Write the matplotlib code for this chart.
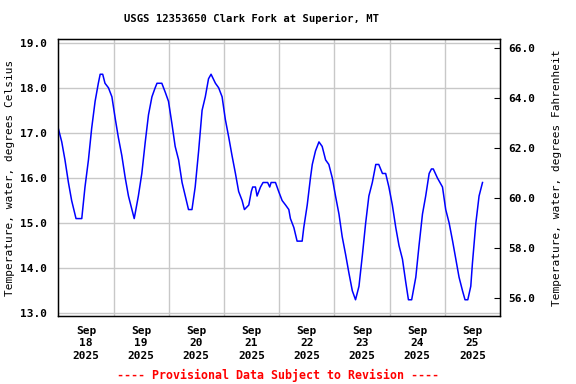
import pandas as pd
import matplotlib
matplotlib.use("Agg")
import matplotlib.pyplot as plt
import numpy as np

plt.rcParams["font.family"] = "DejaVu Sans Mono"
plt.rcParams["font.weight"] = "bold"

# Hours after 2025-09-18 00:00 and water temperature (deg C)
hours = [0, 1.5, 2.9, 4.4, 5.8, 7.7, 10.2, 11.6, 13.1, 14.5, 16.0, 17.4, 18.2, 19.3,
         20.3, 21.8, 23.3, 24.8, 26.1, 27.6, 29.1, 30.5, 33.0, 34.8, 36.3, 37.8,
         39.2, 40.7, 42.1, 42.9, 45.0, 46.5, 47.9, 49.4, 50.8, 52.3, 53.8, 55.2,
         56.6, 58.1, 59.5, 61.0, 62.5, 63.9, 65.3, 66.4, 68.3, 69.7, 71.2, 72.6,
         74.1, 75.5, 77.0, 78.4, 79.9, 80.9, 82.8, 83.9, 84.5, 85.7, 86.4, 87.9,
         89.0, 91.0, 91.9, 92.5, 94.4, 95.8, 97.3, 98.8, 100.2, 100.9, 102.4,
         103.8, 106.0, 106.7, 108.2, 108.9, 109.6, 110.4, 111.8, 113.3, 114.7,
         116.2, 117.6, 119.1, 120.5, 122.0, 123.4, 124.9, 126.3, 127.8, 129.2,
         130.7, 132.2, 133.6, 135.0, 136.5, 138.0, 139.3, 140.9, 142.3, 143.7,
         145.2, 146.7, 148.1, 149.6, 151.0, 152.2, 153.6, 155.4, 156.8, 158.3,
         159.7, 161.2, 162.2, 163.0, 164.8, 167.0, 168.4, 169.9, 171.4, 172.8,
         174.2, 175.7, 176.8, 178.0, 179.3, 180.0, 181.5, 182.9, 184.4]
temp_c = [17.1, 16.8, 16.4, 15.9, 15.5, 15.1, 15.1, 15.8, 16.4, 17.1, 17.7, 18.1, 18.3, 18.3,
          18.1, 18.0, 17.8, 17.3, 16.9, 16.5, 16.0, 15.6, 15.1, 15.6, 16.1, 16.8,
          17.4, 17.8, 18.0, 18.1, 18.1, 17.9, 17.7, 17.2, 16.7, 16.4, 15.9, 15.6,
          15.3, 15.3, 15.8, 16.6, 17.5, 17.8, 18.2, 18.3, 18.1, 18.0, 17.8, 17.3,
          16.9, 16.5, 16.1, 15.7, 15.5, 15.3, 15.4, 15.7, 15.8, 15.8, 15.6, 15.8,
          15.9, 15.9, 15.8, 15.9, 15.9, 15.7, 15.5, 15.4, 15.3, 15.1, 14.9,
          14.6, 14.6, 14.9, 15.4, 15.7, 16.0, 16.3, 16.6, 16.8, 16.7,
          16.4, 16.3, 16.0, 15.6, 15.2, 14.7, 14.3, 13.9, 13.5, 13.3,
          13.6, 14.3, 15.0, 15.6, 15.9, 16.3, 16.3, 16.1, 16.1, 15.8,
          15.4, 14.9, 14.5, 14.2, 13.7, 13.3, 13.3, 13.8, 14.5, 15.2,
          15.6, 16.1, 16.2, 16.2, 16.0, 15.8, 15.3, 15.0, 14.6, 14.2,
          13.8, 13.5, 13.3, 13.3, 13.6, 14.1, 15.0, 15.6, 15.9]

start = pd.Timestamp("2025-09-18")
times = start + pd.to_timedelta(hours, unit="h")

day_labels = ["Sep\n18\n2025", "Sep\n19\n2025", "Sep\n20\n2025", "Sep\n21\n2025",
              "Sep\n22\n2025", "Sep\n23\n2025", "Sep\n24\n2025", "Sep\n25\n2025"]
c_ticks = [13.0, 14.0, 15.0, 16.0, 17.0, 18.0, 19.0]
f_ticks = [56.0, 58.0, 60.0, 62.0, 64.0, 66.0]

c_lo, c_hi = 12.94, 19.075

fig = plt.figure(figsize=(5.76, 3.84), dpi=100)
ax = fig.add_axes([58.3 / 576, 1 - 316 / 384, (500 - 58.3) / 576, (316 - 39.3) / 384])

ax.plot(times, temp_c, color="#0000ff", lw=1.1)

ax.set_xlim(start, start + pd.Timedelta(days=8))
ax.set_ylim(c_lo, c_hi)

midnights = [start + pd.Timedelta(days=d) for d in range(1, 8)]
noons = [start + pd.Timedelta(days=d, hours=12) for d in range(8)]
ax.set_xticks(midnights)
ax.set_xticklabels([])
ax.set_xticks(noons, minor=True)
ax.set_xticklabels(day_labels, minor=True, linespacing=1.3)
ax.tick_params(axis="x", which="both", length=0, pad=7, labelsize=8)

ax.set_yticks(c_ticks)
ax.set_yticklabels([f"{v:.1f}" for v in c_ticks])
ax.tick_params(axis="y", length=0, pad=8, labelsize=8)

ax.grid(True, which="major", color="#c8c8c8", lw=1)
for s in ax.spines.values():
    s.set_linewidth(1)
ax.set_ylabel("Temperature, water, degrees Celsius", fontsize=8, labelpad=4)

ax2 = ax.twinx()
ax2.set_ylim(c_lo * 1.8 + 32, c_hi * 1.8 + 32)
ax2.set_yticks(f_ticks)
ax2.set_yticklabels([f"{v:.1f}" for v in f_ticks])
ax2.tick_params(axis="y", direction="in", length=4, pad=6, labelsize=8)
ax2.set_ylabel("Temperature, water, degrees Fahrenheit", fontsize=8, labelpad=12)

fig.text(0.437, 0.95, "USGS 12353650 Clark Fork at Superior, MT", ha="center",
         va="center", fontsize=7.6)
fig.text(0.482, 0.023, "---- Provisional Data Subject to Revision ----", ha="center",
         va="center", fontsize=8.4, color="red")

fig.savefig("out.png", dpi=100)
